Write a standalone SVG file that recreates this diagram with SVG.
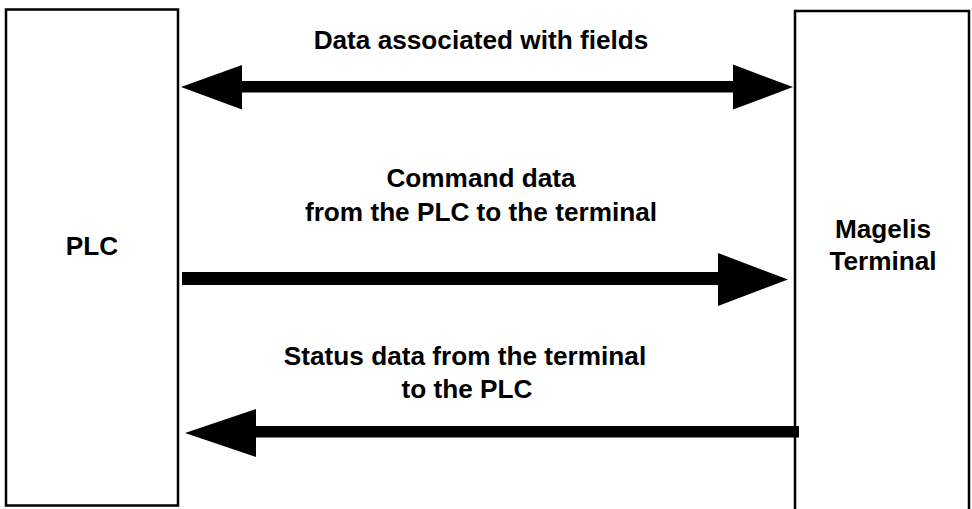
<svg xmlns="http://www.w3.org/2000/svg" width="972" height="509" viewBox="0 0 972 509">
<style>
.box{fill:#fff;stroke:#000;stroke-width:2.5}
.lbl{font-family:"Liberation Sans",Arial,sans-serif;font-weight:bold;font-size:26.2px;fill:#000;text-anchor:middle}
.arr{fill:#000;stroke:none}
</style>
<rect x="0" y="0" width="972" height="509" fill="#fff"/>
<g id="plc">
<rect class="box" x="6" y="9.5" width="172" height="496"/>
<text class="lbl" x="92" y="255">PLC</text>
</g>
<g id="terminal">
<rect class="box" x="795" y="11" width="174" height="510"/>
<text class="lbl" x="883" y="238">Magelis</text>
<text class="lbl" x="883" y="270">Terminal</text>
</g>
<g id="connectors">
<polygon class="arr" points="181,87 242,65 242,81 733,81 733,64.5 793,87 733,109.5 733,92.5 242,92.5 242,109.5"/>
<polygon class="arr" points="182,272 718,272 718,253 788,279.5 718,306 718,285 182,285"/>
<polygon class="arr" points="799,426 256,426 256,409 185,433 256,457 256,437.5 799,437.5"/>
</g>
<g id="labels">
<text class="lbl" x="481" y="49">Data associated with fields</text>
<text class="lbl" x="481" y="187">Command data</text>
<text class="lbl" x="481" y="221">from the PLC to the terminal</text>
<text class="lbl" x="465" y="365">Status data from the terminal</text>
<text class="lbl" x="467" y="398">to the PLC</text>
</g>
</svg>
